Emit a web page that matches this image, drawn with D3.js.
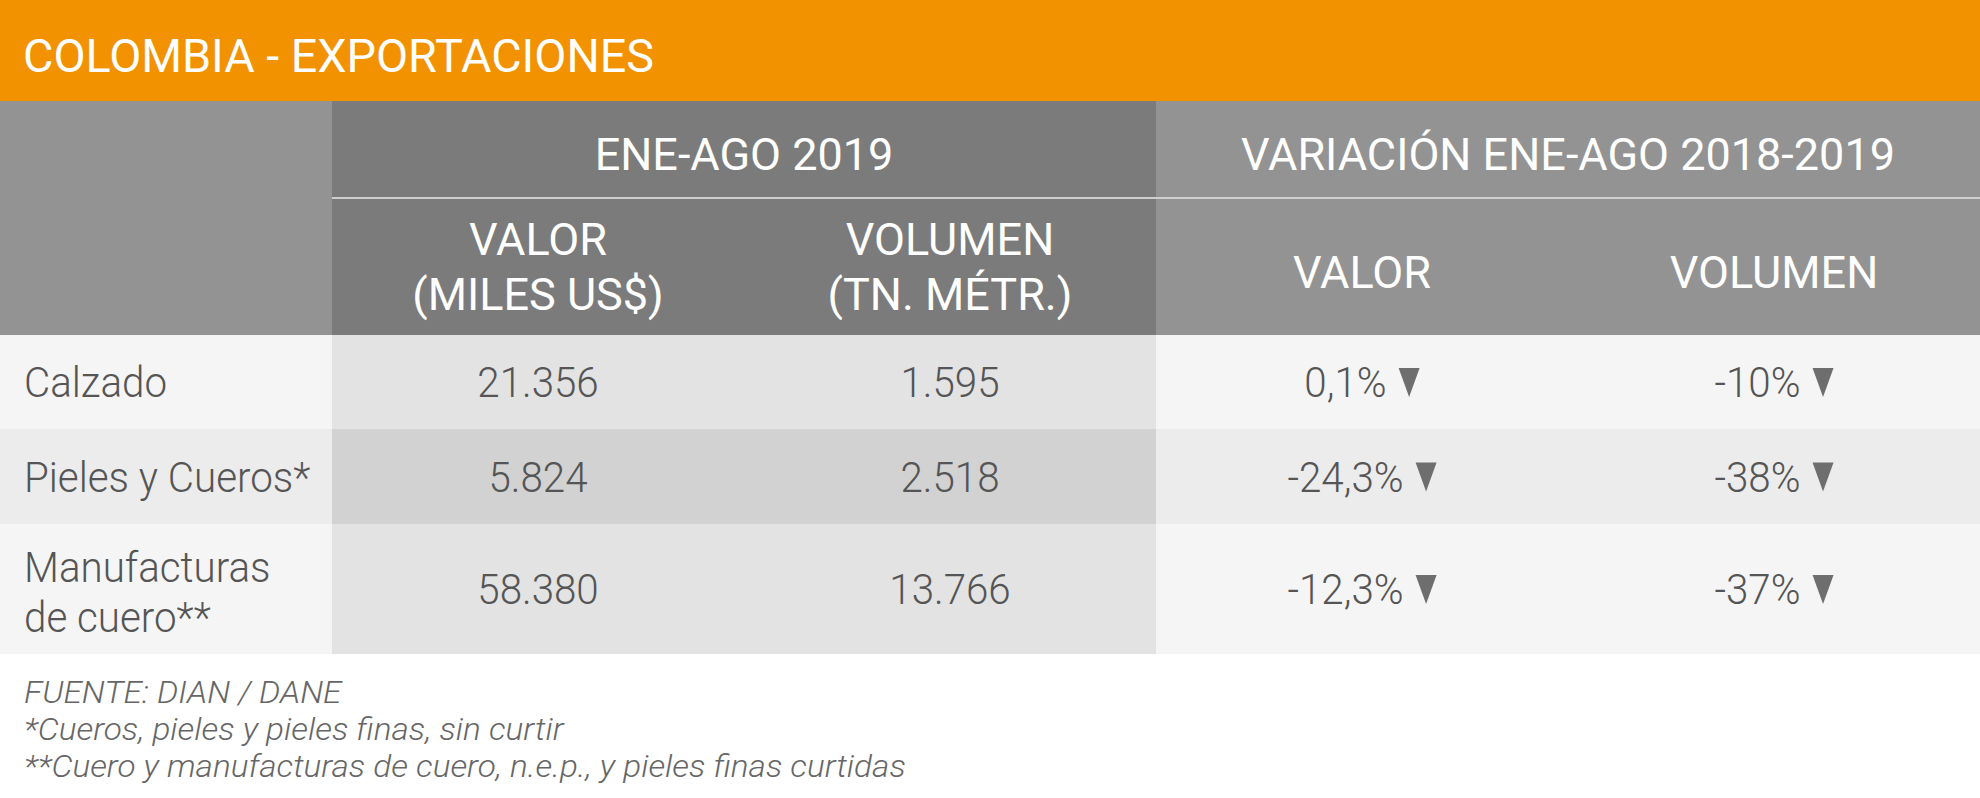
<!DOCTYPE html>
<html><head><meta charset="utf-8">
<script src="https://cdn.jsdelivr.net/npm/d3@7"></script>
<style>
html,body{margin:0;padding:0;background:#fff;}
svg{display:block;}
</style></head>
<body>
<svg id="chart" width="1980" height="798"></svg>
<script>
// ---- data ----
const title = "COLOMBIA - EXPORTACIONES";
const groupHeaders = ["ENE-AGO 2019", "VARIACIÓN ENE-AGO 2018-2019"];
const columnHeaders = [["VALOR", "(MILES US$)"], ["VOLUMEN", "(TN. MÉTR.)"], ["VALOR"], ["VOLUMEN"]];
const categories = [["Calzado"], ["Pieles y Cueros*"], ["Manufacturas", "de cuero**"]];
const valor = [21356, 5824, 58380];
const volumen = [1595, 2518, 13766];
const varValor = [0.1, -24.3, -12.3];
const varVolumen = [-10, -38, -37];
const notes = ["FUENTE: DIAN / DANE", "*Cueros, pieles y pieles finas, sin curtir", "**Cuero y manufacturas de cuero, n.e.p., y pieles finas curtidas"];

// ---- layout ----
const W = 1980;
const svg = d3.select("#chart");
const loc = d3.formatLocale({decimal: ",", thousands: ".", grouping: [3], currency: ["$", ""], minus: "-"});
const fInt = loc.format(",d");
const fPct1 = v => loc.format(".1f")(v) + "%";
const fPct0 = v => loc.format("d")(v) + "%";

const colX = d3.scaleOrdinal().domain([0,1,2,3]).range([332, 744, 1156, 1568]);
const colW = 412;
const labelW = 332;
const rowTops = [335, 429, 524];
const rowHeights = [94, 95, 130];
const SX = 0.96;  // horizontal scale of body glyphs
const HX = 1.0;   // horizontal scale of header glyphs
const FAMILY = "Roboto, 'Open Sans', sans-serif";

function txt(g, x, y, s, opts) {
  const t = g.append("text")
    .attr("transform", `translate(${x},${y}) scale(${opts.sx || SX},1)`)
    .attr("text-anchor", opts.anchor || "start")
    .style("font-family", FAMILY)
    .style("font-size", opts.size + "px")
    .style("font-weight", opts.weight || 400)
    .style("font-style", opts.italic ? "italic" : "normal")
    .attr("fill", opts.fill || "#fff");
  if (Array.isArray(s)) {
    s.forEach((line, i) => t.append("tspan").attr("x", 0).attr("y", i * (opts.lh || 0)).text(line));
  } else {
    t.text(s);
  }
  return t;
}

// title bar
svg.append("rect").attr("x", 0).attr("y", 0).attr("width", W).attr("height", 101).attr("fill", "#f39200");
txt(svg, 23, 72, title, {size: 46, weight: 400, sx: 1.015});

// header backgrounds
svg.append("rect").attr("x", 0).attr("y", 101).attr("width", labelW).attr("height", 234).attr("fill", "#939393");
svg.append("rect").attr("x", colX(0)).attr("y", 101).attr("width", colW * 2).attr("height", 234).attr("fill", "#7b7b7b");
svg.append("rect").attr("x", colX(2)).attr("y", 101).attr("width", colW * 2).attr("height", 234).attr("fill", "#939393");
svg.append("line").attr("x1", colX(0)).attr("x2", W).attr("y1", 198).attr("y2", 198)
  .attr("stroke", "#cfcfcf").attr("stroke-width", 2);

// group headers
groupHeaders.forEach((h, i) => {
  txt(svg, colX(i * 2) + colW, 170, h, {size: 45, anchor: "middle", sx: HX});
});
// column headers
columnHeaders.forEach((lines, i) => {
  const cx = colX(i) + colW / 2;
  if (lines.length === 2) {
    txt(svg, cx, 255, lines, {size: 45, anchor: "middle", lh: 55, sx: HX});
  } else {
    txt(svg, cx, 288, lines[0], {size: 45, anchor: "middle", sx: HX});
  }
});

// body rows
const lightBg = ["#f5f5f5", "#ececec", "#f5f5f5"];
const dataBg = ["#e3e3e3", "#d2d2d2", "#e3e3e3"];
const textCol = "#555555";
const BS = 42;
categories.forEach((lab, r) => {
  const y0 = rowTops[r], h = rowHeights[r];
  const cy = y0 + h / 2;
  svg.append("rect").attr("x", 0).attr("y", y0).attr("width", labelW).attr("height", h).attr("fill", lightBg[r]);
  svg.append("rect").attr("x", colX(0)).attr("y", y0).attr("width", colW * 2).attr("height", h).attr("fill", dataBg[r]);
  svg.append("rect").attr("x", colX(2)).attr("y", y0).attr("width", colW * 2).attr("height", h).attr("fill", lightBg[r]);

  if (lab.length === 1) {
    txt(svg, 24, cy + 15, lab[0], {size: BS, weight: 300, fill: textCol});
  } else {
    txt(svg, 24, cy - 7, lab, {size: BS, weight: 300, fill: textCol, lh: 50});
  }
  txt(svg, colX(0) + colW / 2, cy + 15, fInt(valor[r]), {size: BS, weight: 300, fill: textCol, anchor: "middle"});
  txt(svg, colX(1) + colW / 2, cy + 15, fInt(volumen[r]), {size: BS, weight: 300, fill: textCol, anchor: "middle"});

  // variations with down triangles
  [[varValor[r], fPct1, 2], [varVolumen[r], fPct0, 3]].forEach(([v, f, c]) => {
    const g = svg.append("g");
    const t = txt(g, 0, cy + 15, f(v), {size: BS, weight: 300, fill: textCol, anchor: "start"});
    const tw = t.node().getComputedTextLength() * SX;
    const gap = 12, triW = 21, triH = 29;
    const total = tw + gap + triW;
    const x0 = colX(c) + colW / 2 - total / 2;
    t.attr("transform", `translate(${x0},${cy + 15}) scale(${SX},1)`);
    const tx = x0 + tw + gap;
    const ty = cy - 14;
    g.append("path")
      .attr("d", `M${tx},${ty}L${tx + triW},${ty}L${tx + triW / 2},${ty + triH}Z`)
      .attr("fill", "#6e6e6e");
  });
});

// notes
notes.forEach((n, i) => {
  txt(svg, 24, 703 + i * 37, n, {size: 31, weight: 300, italic: true, fill: "#666", sx: 1.075});
});
</script>
</body></html>
